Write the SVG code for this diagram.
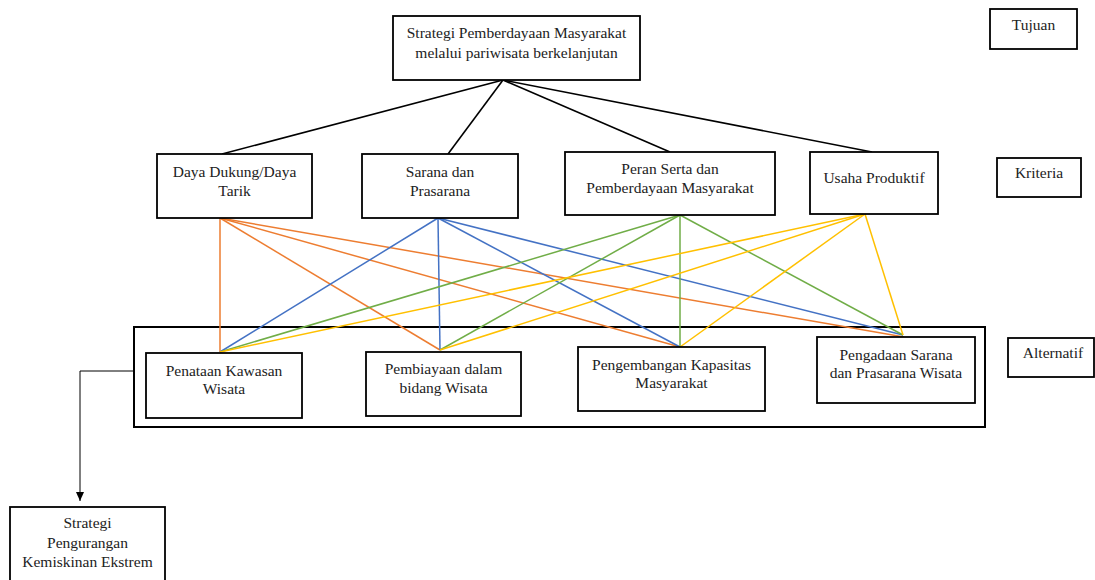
<svg xmlns="http://www.w3.org/2000/svg" width="1095" height="580" viewBox="0 0 1095 580">
<defs>
<style>
.box{fill:#fff;stroke:#000;stroke-width:1.8}
.t{font-family:"Liberation Serif","Times New Roman",serif;font-size:15.5px;fill:#222;text-anchor:middle}
.k{stroke:#000;stroke-width:1.6;fill:none}
.o{stroke:#ED7D31;stroke-width:1.5;fill:none}
.b{stroke:#4472C4;stroke-width:1.5;fill:none}
.g{stroke:#70AD47;stroke-width:1.5;fill:none}
.y{stroke:#FFC000;stroke-width:1.5;fill:none}
</style>
<marker id="arr" markerWidth="10" markerHeight="10" refX="9" refY="5" orient="auto" markerUnits="userSpaceOnUse">
<path d="M0,1 L9,5 L0,9 Z" fill="#000"/>
</marker>
</defs>
<rect width="1095" height="580" fill="#fff"/>

<g id="outer-alternatif">
<rect x="134" y="327" width="851" height="100" fill="none" stroke="#000" stroke-width="2"/>
</g>

<g id="connectors">
<line class="k" x1="503" y1="80" x2="222" y2="154"/>
<line class="k" x1="503" y1="80" x2="448" y2="154"/>
<line class="k" x1="503" y1="80" x2="670" y2="152"/>
<line class="k" x1="503" y1="80" x2="872" y2="152"/>

<line class="o" x1="220" y1="218" x2="220" y2="352"/>
<line class="o" x1="220" y1="218" x2="440" y2="350"/>
<line class="o" x1="220" y1="218" x2="680" y2="347"/>
<line class="o" x1="220" y1="218" x2="904" y2="337"/>

<line class="b" x1="438" y1="218" x2="220" y2="352"/>
<line class="b" x1="438" y1="218" x2="440" y2="350"/>
<line class="b" x1="438" y1="218" x2="680" y2="347"/>
<line class="b" x1="438" y1="218" x2="903" y2="335"/>

<line class="g" x1="680" y1="215" x2="220" y2="352"/>
<line class="g" x1="680" y1="215" x2="440" y2="350"/>
<line class="g" x1="680" y1="215" x2="680" y2="347"/>
<line class="g" x1="680" y1="215" x2="903" y2="335"/>

<line class="y" x1="865" y1="214" x2="220" y2="352"/>
<line class="y" x1="865" y1="214" x2="440" y2="350"/>
<line class="y" x1="865" y1="214" x2="680" y2="347"/>
<line class="y" x1="865" y1="214" x2="903" y2="335"/>

<path d="M134,371 H80 V501" fill="none" stroke="#000" stroke-width="1" marker-end="url(#arr)"/>
</g>

<g id="goal">
<rect class="box" x="393" y="16" width="247" height="64"/>
<text class="t" x="516.5" y="38">Strategi Pemberdayaan Masyarakat</text>
<text class="t" x="516.5" y="58">melalui pariwisata berkelanjutan</text>
</g>

<g id="label-tujuan">
<rect class="box" x="990" y="9" width="87" height="40"/>
<text class="t" x="1033.5" y="30">Tujuan</text>
</g>

<g id="label-kriteria">
<rect class="box" x="997" y="158" width="84" height="39"/>
<text class="t" x="1039" y="178">Kriteria</text>
</g>

<g id="label-alternatif">
<rect class="box" x="1008" y="338" width="86" height="39"/>
<text class="t" x="1053" y="358">Alternatif</text>
</g>

<g id="c1">
<rect class="box" x="157" y="154" width="155" height="64"/>
<text class="t" x="234.5" y="177">Daya Dukung/Daya</text>
<text class="t" x="234.5" y="196">Tarik</text>
</g>

<g id="c2">
<rect class="box" x="362" y="154" width="156" height="64"/>
<text class="t" x="440" y="177">Sarana dan</text>
<text class="t" x="440" y="196">Prasarana</text>
</g>

<g id="c3">
<rect class="box" x="565" y="152" width="210" height="63"/>
<text class="t" x="670" y="174">Peran Serta dan</text>
<text class="t" x="670" y="193">Pemberdayaan Masyarakat</text>
</g>

<g id="c4">
<rect class="box" x="810" y="152" width="128" height="62"/>
<text class="t" x="874" y="183">Usaha Produktif</text>
</g>

<g id="a1">
<rect class="box" x="146" y="353" width="156" height="65"/>
<text class="t" x="224" y="376">Penataan Kawasan</text>
<text class="t" x="224" y="394">Wisata</text>
</g>

<g id="a2">
<rect class="box" x="366" y="352" width="155" height="64"/>
<text class="t" x="443.5" y="374">Pembiayaan dalam</text>
<text class="t" x="443.5" y="393">bidang Wisata</text>
</g>

<g id="a3">
<rect class="box" x="578" y="347" width="187" height="64"/>
<text class="t" x="671.5" y="370">Pengembangan Kapasitas</text>
<text class="t" x="671.5" y="388">Masyarakat</text>
</g>

<g id="a4">
<rect class="box" x="817" y="337" width="158" height="66"/>
<text class="t" x="896" y="360">Pengadaan Sarana</text>
<text class="t" x="896" y="378">dan Prasarana Wisata</text>
</g>

<g id="result">
<rect class="box" x="10" y="507" width="155" height="80"/>
<text class="t" x="87.5" y="528">Strategi</text>
<text class="t" x="87.5" y="548">Pengurangan</text>
<text class="t" x="87.5" y="567">Kemiskinan Ekstrem</text>
</g>
</svg>
